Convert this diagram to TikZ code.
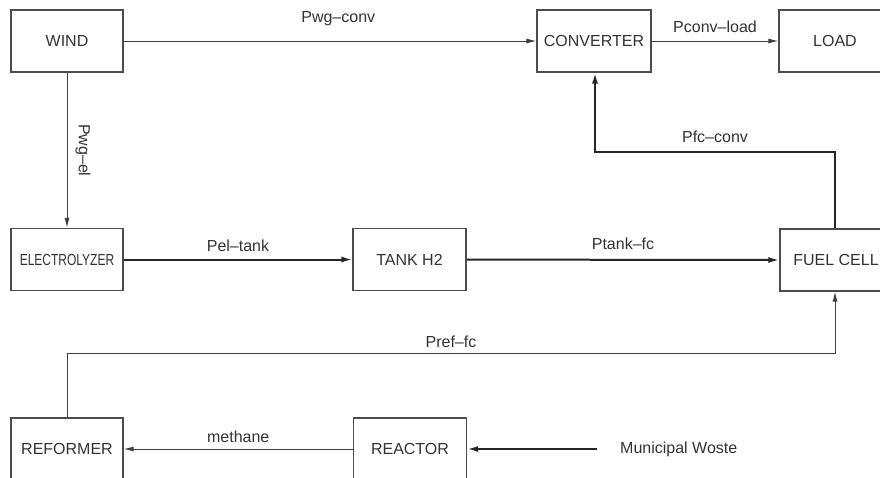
\documentclass[tikz,border=0pt]{standalone}
\usepackage{fontspec}
\setmainfont{Liberation Sans}
\usetikzlibrary{arrows.meta}
\begin{document}
\begin{tikzpicture}[x=1pt,y=-1pt,
  blk/.style={draw=black!70, line width=1.1pt, minimum width=112pt, minimum height=62pt, inner sep=0pt, font=\fontsize{16}{18}\selectfont, text=black!80},
  lbl/.style={font=\fontsize{16}{18}\selectfont, text=black!80, inner sep=0pt},
  flow/.style={draw=black!75, line width=1pt, -{Latex[length=10pt,width=5pt]}},
  boldflow/.style={draw=black!85, line width=2pt, -{Latex[length=11pt,width=6pt]}}
]
\useasboundingbox[fill=white] (0,0) rectangle (880,477);

\node[blk] (wind) at (67,41) {WIND};
\node[blk, minimum width=114pt] (conv) at (594,41) {CONVERTER};
\node[blk] (load) at (835,41) {LOAD};
\node[blk] (elec) at (67,259.5) {\scalebox{0.75}[1]{ELECTROLYZER}};
\node[blk, minimum width=113pt] (tank) at (409.5,259.5) {TANK H2};
\node[blk] (fc) at (836,260) {FUEL CELL};
\node[blk] (ref) at (67,449) {REFORMER};
\node[blk, minimum width=113pt] (reac) at (410,449) {REACTOR};
\node[lbl, anchor=west] (mw) at (620,449) {Municipal Woste};

\coordinate (mwstart) at (597,449);
\coordinate (fcconvc) at (835,152);
\coordinate (convfcc) at (595,152);
\coordinate (refup) at (67,353);
\coordinate (fcdown) at (835,353);

% Wind -> converter
\draw[flow] (wind) -- (conv) node[lbl, pos=0.52, above=15pt] {Pwg\textendash conv};
% converter -> load
\draw[flow] (conv) -- (load) node[lbl, midway, above=8pt] {Pconv\textendash load};
% wind -> electrolyzer
\draw[flow] (wind) -- (elec) node[lbl, pos=0.5, right=8pt, rotate=-90, anchor=south] {Pwg\textendash el};
% electrolyzer -> tank
\draw[boldflow] (elec) -- (tank) node[lbl, midway, above=7pt] {Pel\textendash tank};
% tank -> fuel cell
\draw[boldflow] (tank) -- (fc.west) node[lbl, midway, above=9pt] {Ptank\textendash fc};
% fuel cell -> converter
\draw[boldflow] (fc.north -| fcconvc) -- (fcconvc) -- node[lbl, midway, above=8pt] {Pfc\textendash conv} (convfcc) -- (conv.south -| convfcc);
% reformer -> fuel cell
\draw[flow] (ref.north) -- (refup) -- node[lbl, midway, above=5pt] {Pref\textendash fc} (fcdown) -- (fc.south -| fcdown);
% reactor -> reformer
\draw[flow] (reac) -- (ref) node[lbl, pos=0.5, above=6pt] {methane};
% waste -> reactor
\draw[boldflow] (mwstart) -- (reac);
\end{tikzpicture}
\end{document}
